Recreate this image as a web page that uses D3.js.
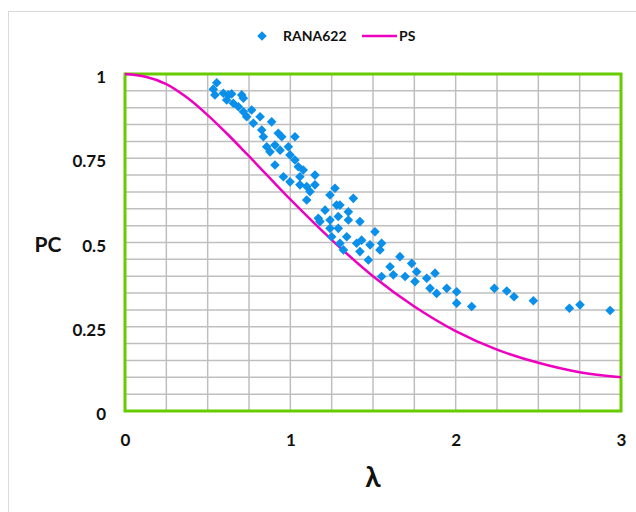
<!DOCTYPE html>
<html>
<head>
<meta charset="utf-8">
<script src="https://cdn.jsdelivr.net/npm/d3@7"></script>
<style>
  body { margin: 0; background: #fff; }
  text { font-family: Lato, "Open Sans", sans-serif; font-weight: bold; fill: #111; }
</style>
</head>
<body>
<div id="chart"></div>
<script>
// datos
var lambdaRana = [0.555, 0.534, 0.544, 0.595, 0.625, 0.645, 0.615, 0.655, 0.706, 0.716,
  0.686, 0.716, 0.736, 0.766, 0.776, 0.817, 0.827, 0.837, 0.887, 0.857,
  0.877, 0.907, 0.927, 0.948, 1.028, 0.938, 0.988, 0.998, 1.028, 0.907,
  1.048, 0.958, 0.998, 1.058, 1.078, 1.058, 1.099,
  1.149, 1.149, 1.119, 1.099, 1.240, 1.270, 1.381, 1.280, 1.300,
  1.210, 1.351, 1.290, 1.169, 1.179, 1.240, 1.351, 1.421, 1.240, 1.290,
  1.512, 1.250, 1.341, 1.300, 1.431, 1.401, 1.482, 1.552, 1.542, 1.321,
  1.421, 1.472, 1.603, 1.663,
  1.552, 1.623, 1.734, 1.764, 1.694, 1.754, 1.825, 1.875, 1.845, 1.885,
  1.946, 2.006, 2.006, 2.097,
  2.234, 2.309, 2.353, 2.470, 2.688, 2.752, 2.934];
var pcRana = [0.974, 0.955, 0.938, 0.943, 0.938, 0.941, 0.923, 0.913, 0.938, 0.928,
  0.903, 0.888, 0.873, 0.893, 0.854, 0.873, 0.834, 0.814, 0.858, 0.784,
  0.769, 0.789, 0.824, 0.814, 0.814, 0.774, 0.784, 0.760, 0.745, 0.730,
  0.725, 0.695, 0.680, 0.695, 0.715, 0.671, 0.666,
  0.700, 0.671, 0.651, 0.626, 0.641, 0.661, 0.631, 0.611, 0.611,
  0.596, 0.591, 0.577, 0.572, 0.562, 0.567, 0.567, 0.562, 0.542, 0.542,
  0.532, 0.517, 0.517, 0.498, 0.507, 0.498, 0.493, 0.498, 0.478, 0.478,
  0.473, 0.448, 0.428, 0.458,
  0.399, 0.404, 0.438, 0.413, 0.399, 0.384, 0.394, 0.409, 0.364, 0.349,
  0.364, 0.354, 0.320, 0.310,
  0.364, 0.356, 0.339, 0.327, 0.305, 0.315, 0.298];

var lambdaPS = [0, 0.125, 0.25, 0.375, 0.5, 0.625, 0.75, 0.875, 1, 1.25, 1.5, 1.75, 2, 2.25, 2.5, 2.75, 3];
var pcPS = [1, 0.992, 0.970, 0.930, 0.878, 0.819, 0.756, 0.692, 0.628, 0.508, 0.40, 0.31, 0.237, 0.182, 0.143, 0.115, 0.10];

var xTicks = [0, 1, 2, 3];
var yTicks = [0, 0.25, 0.5, 0.75, 1];
var yTickLabels = ["0", "0.25", "0.5", "0.75", "1"];

var W = 636, H = 512;
var margin = {top: 74, right: 15, bottom: 101, left: 125};
var width = W - margin.left - margin.right;
var height = H - margin.top - margin.bottom;

var svg = d3.select("#chart").append("svg")
  .attr("width", W).attr("height", H);

// marco exterior
svg.append("rect")
  .attr("x", 8.5).attr("y", 11.5)
  .attr("width", 700).attr("height", 600)
  .attr("fill", "none").attr("stroke", "#d9d9d9").attr("stroke-width", 1);

var g = svg.append("g")
  .attr("transform", "translate(" + margin.left + "," + margin.top + ")");

var x = d3.scaleLinear().domain([0, 3]).range([0, width]);
var y = d3.scaleLinear().domain([0, 1]).range([height, 0]);

// rejilla
g.append("g")
  .selectAll("line")
  .data(d3.range(0, 3.001, 0.25))
  .enter().append("line")
  .attr("x1", function(d) { return x(d); }).attr("x2", function(d) { return x(d); })
  .attr("y1", 0).attr("y2", height)
  .attr("stroke", "#bfbfbf").attr("stroke-width", 1.5);

g.append("g")
  .selectAll("line")
  .data(d3.range(0, 1.001, 0.05))
  .enter().append("line")
  .attr("y1", function(d) { return y(d); }).attr("y2", function(d) { return y(d); })
  .attr("x1", 0).attr("x2", width)
  .attr("stroke", "#bfbfbf").attr("stroke-width", 1.5);

// borde verde del area de dibujo
g.append("rect")
  .attr("x", 0).attr("y", 0).attr("width", width).attr("height", height)
  .attr("fill", "none").attr("stroke", "#66cc00").attr("stroke-width", 3);

// ejes (solo etiquetas)
var xAxis = g.append("g")
  .attr("transform", "translate(0," + height + ")")
  .call(d3.axisBottom(x).tickValues(xTicks).tickSize(0).tickPadding(23).tickFormat(d3.format("d")));
xAxis.select(".domain").remove();
xAxis.selectAll("text").attr("font-size", 17).attr("font-family", null);

var yAxis = g.append("g")
  .call(d3.axisLeft(y).tickValues(yTicks).tickSize(0).tickPadding(19)
    .tickFormat(function(d, i) { return yTickLabels[i]; }));
yAxis.select(".domain").remove();
yAxis.selectAll("text").attr("font-size", 17).attr("font-family", null).attr("dy", "0.5em");

// curva PS
var line = d3.line()
  .x(function(d) { return x(d[0]); })
  .y(function(d) { return y(d[1]); })
  .curve(d3.curveCatmullRom.alpha(0.5));

g.append("path")
  .datum(d3.zip(lambdaPS, pcPS))
  .attr("d", line)
  .attr("fill", "none")
  .attr("stroke", "#ee00c0")
  .attr("stroke-width", 2.5);

// puntos RANA622
var diamond = d3.symbol().type(d3.symbolSquare).size(46);
g.append("g")
  .selectAll("path")
  .data(d3.zip(lambdaRana, pcRana))
  .enter().append("path")
  .attr("d", diamond)
  .attr("transform", function(d) { return "translate(" + x(d[0]) + "," + y(d[1]) + ") rotate(45)"; })
  .attr("fill", "#0a8fea");

// titulos de ejes
svg.append("text")
  .attr("x", 48).attr("y", 252)
  .attr("text-anchor", "middle")
  .attr("font-size", 21)
  .text("PC");

svg.append("text")
  .attr("x", 373).attr("y", 487)
  .attr("text-anchor", "middle")
  .attr("font-size", 28)
  .text("λ");

// leyenda
var legend = svg.append("g");
legend.append("path")
  .attr("d", diamond)
  .attr("transform", "translate(262,36) rotate(45)")
  .attr("fill", "#0a8fea");
legend.append("text")
  .attr("x", 283).attr("y", 41)
  .attr("font-size", 14)
  .text("RANA622");
legend.append("line")
  .attr("x1", 362).attr("x2", 397).attr("y1", 36).attr("y2", 36)
  .attr("stroke", "#ee00c0").attr("stroke-width", 2.5);
legend.append("text")
  .attr("x", 399).attr("y", 41)
  .attr("font-size", 14)
  .text("PS");
</script>
</body>
</html>
